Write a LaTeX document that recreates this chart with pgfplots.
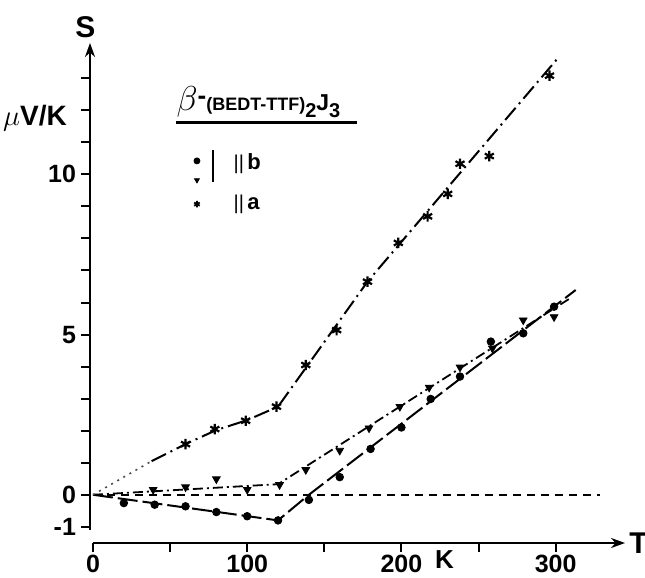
\documentclass[border=0pt]{standalone}
\usepackage{fontspec}
\setmainfont{Liberation Sans}
\usepackage{pgfplots}
\pgfplotsset{compat=1.18}
\usetikzlibrary{arrows.meta}

% Thermopower of beta-(BEDT-TTF)2I3, measured points
\pgfplotstableread{
T S
20 -0.26
40 -0.31
60 -0.36
80 -0.54
100 -0.67
120 -0.80
140 -0.16
160 0.55
180 1.43
200 2.10
219 2.99
238 3.69
258 4.78
279 5.04
299 5.87
}\parb
\pgfplotstableread{
T S
39 0.16
60 0.24
80 0.49
100 0.16
121 0.31
138 0.78
160 1.38
179 2.08
199 2.75
218 3.35
238 3.98
259 4.57
279 5.45
299 5.55
}\parbtri
\pgfplotstableread{
T S
60 1.58
79 2.05
99 2.31
119 2.75
138 4.05
158 5.14
178 6.65
198 7.86
217 8.69
230 9.39
238 10.33
257 10.57
296 13.08
}\para

\begin{document}
\begin{tikzpicture}
\begin{axis}[
  name=ax,
  scale only axis,
  width=266pt, height=243.5pt,
  xmin=0, xmax=345, ymin=-1.1, ymax=14.1,
  clip=false,
  axis lines=left,
  axis x line shift=6.5pt,
  axis y line shift=1.5pt,
  axis line style={line width=1.2pt, -{Stealth[length=7pt,width=5pt]}},
  tick align=outside,
  major tick length=4.5pt, minor tick length=4.5pt,
  every tick/.style={black, line width=1pt},
  xtick={0,100,200,300}, minor xtick={50,150,250},
  ytick={-1,0,5,10}, minor ytick={1,2,3,4,6,7,8,9,11,12,13},
  yticklabels={-1,0,5,10},
  xticklabels={0,100,200,300},
  tick label style={font=\fontsize{12.5}{13}\selectfont\bfseries},
  /pgf/number format/assume math mode=true,
  xticklabel style={yshift=2pt},
  yticklabel style={xshift=1pt},
]
% zero line
\addplot[black, line width=0.8pt, dash pattern=on 4pt off 3pt] coordinates {(0,0) (329,0)};

% guide lines through the data
\addplot[black, line width=1pt, dash pattern=on 10pt off 2.5pt] coordinates {(0,0) (120,-0.8) (140,0) (313,6.39)};
\addplot[black, line width=0.9pt, dash pattern=on 5pt off 2pt on 1pt off 2pt] coordinates {(0,0) (120,0.33) (309,6.12)};
\addplot[black!70, line width=0.8pt, dash pattern=on 1pt off 2.5pt] coordinates {(0,0) (38,1.05)};
\addplot[black, line width=1pt, dash pattern=on 8pt off 2.5pt on 1pt off 2.5pt] coordinates {(38,1.05) (60,1.58) (80,2.02) (100,2.33) (120,2.75) (178,6.65) (301,13.6)};

% measured points
\addplot[only marks, mark=*, mark size=1.9pt, black] table[x=T,y=S] {\parb};
\addplot[only marks, mark=triangle*, mark size=2.2pt, black, mark options={rotate=180}] table[x=T,y=S] {\parbtri};
\addplot[only marks, mark=asterisk, mark size=2.6pt, black, mark options={line width=1.1pt}] table[x=T,y=S] {\para};

% legend
\node[anchor=base west, inner sep=0pt] at (axis cs:54,12.0)
  {{\fontsize{16}{16}\selectfont$\beta$}\raisebox{3pt}{\bfseries\fontsize{13}{13}\selectfont -}{\bfseries\fontsize{9}{9}\selectfont (BEDT-TTF)\raisebox{-3.5pt}{\fontsize{10}{10}\selectfont 2}\fontsize{11.5}{11.5}\selectfont J\raisebox{-3.5pt}{\fontsize{10}{10}\selectfont 3}}};
\draw[line width=1.6pt] (axis cs:53.8,11.62) -- (axis cs:171,11.62);
\addplot[only marks, mark=*, mark size=1.5pt, black] coordinates {(67.4,10.42)};
\addplot[only marks, mark=triangle*, mark size=1.4pt, black, mark options={rotate=180}] coordinates {(67.4,9.82)};
\addplot[only marks, mark=asterisk, mark size=1.6pt, black, mark options={line width=0.9pt}] coordinates {(67.4,9.07)};
\draw[line width=1.2pt] (axis cs:77.8,10.75) -- (axis cs:77.8,9.75);
\node[anchor=west, inner sep=0pt] at (axis cs:91,10.32) {{\fontsize{10}{10}\selectfont||}\,{\bfseries\fontsize{11}{11}\selectfont b}};
\node[anchor=west, inner sep=0pt] at (axis cs:91,9.07) {{\fontsize{10}{10}\selectfont||}\,{\bfseries\fontsize{11}{11}\selectfont a}};

% axis names
\node[font=\fontsize{15}{15}\selectfont\bfseries] at (axis cs:-5,14.6) {S};
\node[font=\fontsize{14}{14}\selectfont\bfseries] at (axis cs:-37.6,11.74) {$\mu$V/K};
\node[font=\fontsize{13}{13}\selectfont\bfseries] at (axis cs:228,-2.02) {K};
\end{axis}
\node[anchor=west, font=\fontsize{15}{15}\selectfont\bfseries, inner sep=0pt] at ([xshift=2pt,yshift=-6.5pt]ax.south east) {T};
\pgfresetboundingbox
\path ([xshift=-46.5pt,yshift=-23.5pt]ax.south west) rectangle ([xshift=10pt,yshift=21.5pt]ax.north east);
\end{tikzpicture}
\end{document}
